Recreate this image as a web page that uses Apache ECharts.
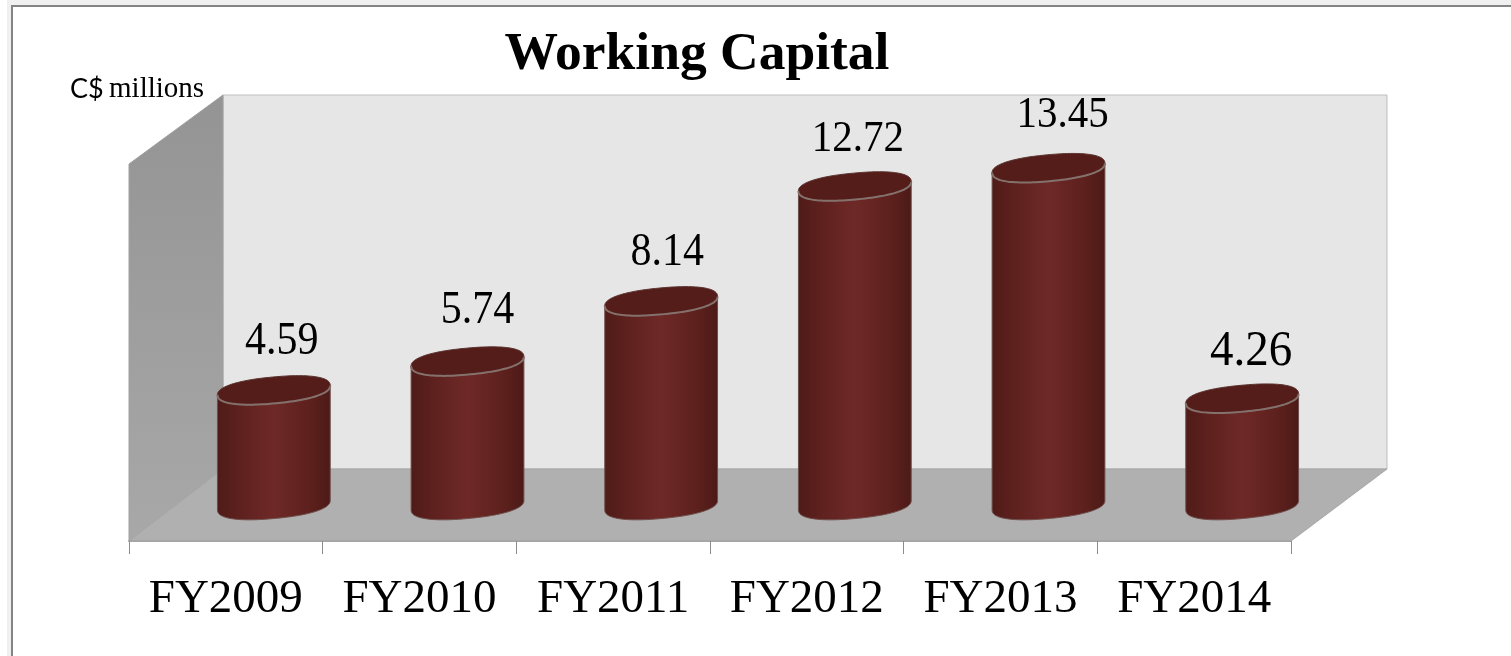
<!DOCTYPE html>
<html>
<head>
<meta charset="utf-8">
<title>Working Capital</title>
<script src="https://cdn.jsdelivr.net/npm/echarts@6/dist/echarts.min.js"></script>
<style>
  html, body { margin: 0; padding: 0; background: #fff; }
  #chart { width: 1511px; height: 656px; }
</style>
</head>
<body>
<div id="chart"></div>
<script>
const categories = ['FY2009', 'FY2010', 'FY2011', 'FY2012', 'FY2013', 'FY2014'];
const workingCapital = [4.59, 5.74, 8.14, 12.72, 13.45, 4.26];

// Hand placement of each value label relative to its cylinder top: [dx, dy, font size]
const labelPlacement = [
  [8, -48, 42], [10, -50, 42], [6, -48, 42], [3, -47, 41], [14, -53, 41], [9, -47, 47]
];

const SERIF = '"Liberation Serif", serif';
const chartW = 1511, chartH = 656;

// Plot box of the value scale; the pseudo-3D shell is laid out around it
const plot = { left: 129, right: 1291, baseY: 505.3, unit: 25.08, maxValue: 15 };
const depth = { x: 48, floorFrontY: 541, floorBackY: 469, wallTopY: 95, wallLeftX: 223, wallRightX: 1387, sideTopY: 164 };

// Slightly squared, tilted ellipse used for the cylinder caps and bases
const ell = { a: 56.6, b: 13.2, tilt: 5.3 * Math.PI / 180, power: 2 / 2.3 };
function signedPow(v, p) { return Math.sign(v) * Math.pow(Math.abs(v), p); }
function ellipsePoint(cx, cy, t) {
  const ex = ell.a * signedPow(Math.cos(t), ell.power);
  const ey = ell.b * signedPow(Math.sin(t), ell.power);
  return [
    cx + ex * Math.cos(ell.tilt) + ey * Math.sin(ell.tilt),
    cy - ex * Math.sin(ell.tilt) + ey * Math.cos(ell.tilt)
  ];
}
function arc(cx, cy, from, to, steps) {
  const out = [];
  for (let i = 0; i <= steps; i++) out.push(ellipsePoint(cx, cy, from + (to - from) * i / steps));
  return out;
}
// Parameter of the cap's rightmost point; the leftmost sits half a turn away
let tRight = 0;
for (let t = 0; t < 1; t += 0.002) {
  if (ellipsePoint(0, 0, t)[0] > ellipsePoint(0, 0, tRight)[0]) tRight = t;
}
const tLeft = tRight + Math.PI;

function renderCylinder(params, api) {
  const idx = api.value(0);
  const val = api.value(1);
  const top = api.coord([idx, val]);
  const base = api.coord([idx, 0]);
  const cx = top[0] + depth.x;
  const place = labelPlacement[params.dataIndex];

  const bodyPts = arc(cx, base[1], tRight, tLeft, 60).concat(arc(cx, top[1], tLeft, tRight, 60));

  return {
    type: 'group',
    children: [
      {
        type: 'polygon',
        shape: { points: bodyPts },
        style: {
          fill: new echarts.graphic.LinearGradient(0, 0, 1, 0, [
            { offset: 0, color: '#4e1b18' },
            { offset: 0.2, color: '#5e211e' },
            { offset: 0.5, color: '#6e2927' },
            { offset: 0.8, color: '#5e211d' },
            { offset: 1, color: '#4c1a17' }
          ]),
          stroke: '#6f4f4b',
          lineWidth: 1
        }
      },
      {
        type: 'polygon',
        shape: { points: arc(cx, top[1], 0, Math.PI * 2, 120) },
        style: { fill: '#541d1a', stroke: '#5a322e', lineWidth: 1 }
      },
      {
        type: 'polyline',
        shape: { points: arc(cx, top[1], tRight, tLeft, 60) },
        style: { fill: null, stroke: '#85716c', lineWidth: 2 }
      },
      {
        type: 'text',
        x: cx + place[0],
        y: top[1] + place[1],
        scaleY: 1.1,
        style: {
          text: val.toFixed(2),
          font: place[2] + 'px ' + SERIF,
          fill: '#000',
          align: 'center',
          verticalAlign: 'middle'
        }
      }
    ]
  };
}

const chart = echarts.init(document.getElementById('chart'), null, { renderer: 'canvas', width: chartW, height: chartH });

const option = {
  animation: false,
  backgroundColor: '#fff',
  title: {
    text: 'Working Capital',
    left: 692, top: 50, textAlign: 'center', textVerticalAlign: 'middle',
    textStyle: { fontFamily: SERIF, fontSize: 53.5, fontWeight: 'bold', color: '#000' }
  },
  grid: {
    left: plot.left,
    right: chartW - plot.right,
    bottom: chartH - plot.baseY,
    height: plot.unit * plot.maxValue
  },
  xAxis: {
    type: 'category',
    data: categories,
    offset: depth.floorFrontY - plot.baseY,
    axisLine: { show: true, onZero: false, lineStyle: { color: '#a6a6a6', width: 2 } },
    axisTick: { show: true, alignWithLabel: false, length: 13, lineStyle: { color: '#8c8c8c', width: 1 } },
    axisLabel: { fontFamily: SERIF, fontSize: 47, color: '#000', margin: 35, interval: 0 }
  },
  yAxis: {
    type: 'value', min: 0, max: plot.maxValue, show: false, splitLine: { show: false }
  },
  graphic: { elements: [
    // Outer frame, open on the right and at the bottom
    { type: 'rect', z: -1, shape: { x: 7, y: 0, width: 1504, height: chartH }, style: { fill: '#f0f0f0' } },
    { type: 'rect', z: -1, shape: { x: 12, y: 6, width: 1600, height: 800 }, style: { fill: '#fff', stroke: '#848484', lineWidth: 2 } },
    // Back wall
    { type: 'rect', z: 0, shape: { x: depth.wallLeftX, y: depth.wallTopY, width: depth.wallRightX - depth.wallLeftX, height: depth.floorBackY - depth.wallTopY },
      style: { fill: '#e6e6e6', stroke: '#bdbdbd', lineWidth: 1 } },
    // Side wall
    { type: 'polygon', z: 0, shape: { points: [[plot.left, depth.sideTopY], [depth.wallLeftX, depth.wallTopY], [depth.wallLeftX, depth.floorBackY], [plot.left, depth.floorFrontY]] },
      style: { fill: new echarts.graphic.LinearGradient(0, 0, 0, 1, [{ offset: 0, color: '#949494' }, { offset: 1, color: '#a8a8a8' }]), stroke: '#a0a0a0', lineWidth: 1 } },
    // Floor
    { type: 'polygon', z: 0, shape: { points: [[plot.left, depth.floorFrontY], [depth.wallLeftX, depth.floorBackY], [depth.wallRightX, depth.floorBackY], [plot.right, depth.floorFrontY]] },
      style: { fill: '#b0b0b0', stroke: '#a6a6a6', lineWidth: 1 } },
    // Unit caption
    { type: 'text', z: 5, left: 70, top: 75,
      style: {
        rich: {
          cur: { fontFamily: 'Lato, sans-serif', fontSize: 27, fill: '#000', padding: [0, 2, 0, 0] },
          txt: { fontFamily: SERIF, fontSize: 29, fill: '#000' }
        },
        text: '{cur|C$} {txt|millions}'
      } }
  ] },
  series: [{
    type: 'custom',
    z: 3,
    clip: false,
    renderItem: renderCylinder,
    encode: { x: 0, y: 1 },
    data: workingCapital.map((v, i) => [i, v])
  }]
};
chart.setOption(option);
</script>
</body>
</html>
